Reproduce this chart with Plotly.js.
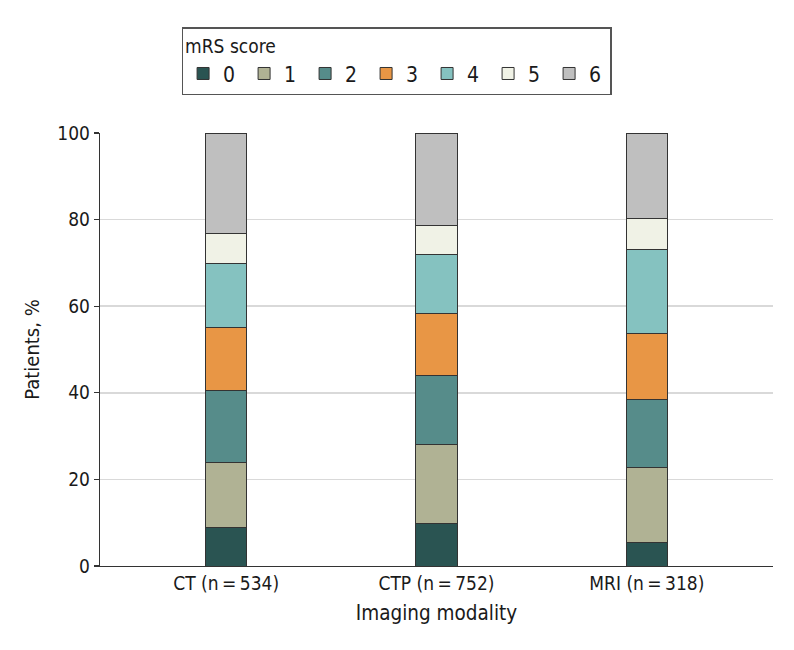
<!DOCTYPE html>
<html>
<head>
<meta charset="utf-8">
<script src="https://cdn.plot.ly/plotly-3.0.1.min.js"></script>
<style>
  html, body { margin: 0; padding: 0; background: #fff; }
  #chart { width: 794px; height: 650px; }
</style>
</head>
<body>
<div id="chart"></div>
<script>
// Categories (x axis tick labels)
const modalities = ["CT (n\u2009=\u2009534)", "CTP (n\u2009=\u2009752)", "MRI (n\u2009=\u2009318)"];
// mRS score labels
const scores = ["0", "1", "2", "3", "4", "5", "6"];
// Percent of patients per mRS score (0..6)
const ctValues  = [8.9, 15.1, 16.5, 14.6, 14.8, 6.8, 23.3];
const ctpValues = [9.9, 18.2, 15.9, 14.2, 13.8, 6.7, 21.3];
const mriValues = [5.5, 17.3, 15.7, 15.1, 19.5, 7.2, 19.7];
// Colours per score
const colors = ["#2a5452", "#b0b294", "#568c8a", "#e89645", "#85c2c0", "#f0f2e6", "#bfbfbf"];

const FONT = "'DejaVu Sans Condensed', 'Roboto', sans-serif";

const traces = scores.map((s, i) => ({
  type: "bar",
  name: s,
  x: modalities,
  y: [ctValues[i], ctpValues[i], mriValues[i]],
  width: 0.195,
  marker: { color: colors[i], line: { color: "#333333", width: 1 } },
  hoverinfo: "skip"
}));

const layout = {
  width: 794,
  height: 650,
  margin: { l: 100, r: 21, t: 133, b: 84 },
  paper_bgcolor: "#ffffff",
  plot_bgcolor: "#ffffff",
  barmode: "stack",
  font: { family: FONT, size: 19, color: "#1a1a1a" },
  showlegend: true,
  legend: {
    orientation: "h",
    x: 0.441, xanchor: "center",
    y: 1.244, yanchor: "top",
    bordercolor: "#555555",
    borderwidth: 1.3,
    bgcolor: "#ffffff",
    font: { family: FONT, size: 21, color: "#1a1a1a" },
    title: { text: "mRS score", side: "top", font: { family: FONT, size: 19, color: "#1a1a1a" } },
    entrywidth: 16,
    entrywidthmode: "pixels",
    traceorder: "normal"
  },
  xaxis: {
    type: "category",
    range: [-0.6, 2.6],
    showline: true,
    linecolor: "#333333",
    linewidth: 1.3,
    ticks: "",
    showgrid: false,
    tickfont: { family: FONT, size: 19, color: "#1a1a1a" },
    title: { text: "Imaging modality", font: { family: FONT, size: 20.5, color: "#1a1a1a" }, standoff: 12 },
    fixedrange: true
  },
  yaxis: {
    range: [0, 100],
    tickvals: [0, 20, 40, 60, 80, 100],
    showline: true,
    linecolor: "#333333",
    linewidth: 1.3,
    ticks: "outside",
    ticklen: 5,
    tickcolor: "#333333",
    tickwidth: 1.3,
    showgrid: true,
    gridcolor: "#d9d9d9",
    gridwidth: 1.5,
    zeroline: false,
    tickfont: { family: FONT, size: 19, color: "#1a1a1a" },
    title: { text: "Patients, %", font: { family: FONT, size: 20, color: "#1a1a1a" }, standoff: 12 },
    fixedrange: true
  }
};

Plotly.newPlot("chart", traces, layout, { displayModeBar: false, staticPlot: true });
</script>
</body>
</html>
